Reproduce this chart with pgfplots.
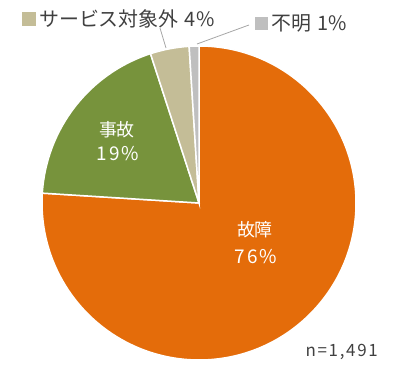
\documentclass[border=0pt]{standalone}
\usepackage{pgfplots}
\pgfplotsset{compat=1.18}
\usepackage{pgfplotstable}
\usepackage{fontspec}
\setmainfont{Noto Sans CJK JP}
\newfontfamily\numfont[LetterSpace=10]{Noto Sans CJK JP}
\newfontfamily\legnum[LetterSpace=4]{Noto Sans CJK JP}
\definecolor{cKosho}{HTML}{E46C0A}
\definecolor{cJiko}{HTML}{77933C}
\definecolor{cSvc}{HTML}{C4BD97}
\definecolor{cFumei}{HTML}{BFBFBF}
\definecolor{txt}{HTML}{404040}

% share (%) of each cause, clockwise from 12 o'clock
\pgfplotstableread{
value
76
19
4
1
}\piedata

\pgfplotstablegetelem{0}{value}\of\piedata \let\vA\pgfplotsretval
\pgfplotstablegetelem{1}{value}\of\piedata \let\vB\pgfplotsretval
\pgfplotstablegetelem{2}{value}\of\piedata \let\vC\pgfplotsretval
\pgfplotstablegetelem{3}{value}\of\piedata \let\vD\pgfplotsretval
\pgfmathsetmacro\aA{90-3.6*\vA}
\pgfmathsetmacro\aB{\aA-3.6*\vB}
\pgfmathsetmacro\aC{\aB-3.6*\vC}
\pgfmathsetmacro\aD{\aC-3.6*\vD}

\begin{document}
\begin{tikzpicture}
\begin{axis}[width=400bp,height=376bp,scale only axis,hide axis,
  xmin=0,xmax=400,ymin=0,ymax=376,clip=false]
\path (axis cs:0,0) rectangle (axis cs:400,376);
\def\cx{199}\def\cy{173}
\fill[cKosho,draw=white,line width=1.5bp] (axis cs:\cx,\cy) -- ++(90:157bp) arc[start angle=90,end angle=\aA,radius=157bp] -- cycle;
\fill[cJiko,draw=white,line width=1.5bp] (axis cs:\cx,\cy) -- ++(\aA:157bp) arc[start angle=\aA,end angle=\aB,radius=157bp] -- cycle;
\fill[cSvc,draw=white,line width=1.5bp] (axis cs:\cx,\cy) -- ++(\aB:157bp) arc[start angle=\aB,end angle=\aC,radius=157bp] -- cycle;
\fill[cFumei,draw=white,line width=1.5bp] (axis cs:\cx,\cy) -- ++(\aC:157bp) arc[start angle=\aC,end angle=\aD,radius=157bp] -- cycle;
% labels inside
\node[white,font=\fontsize{18}{20}\selectfont] at (axis cs:255,146) {故障};
\node[white,font=\numfont\fontsize{19}{20}\selectfont] at (axis cs:256,119) {76\%};
\node[white,font=\fontsize{18}{20}\selectfont] at (axis cs:117,246) {事故};
\node[white,font=\numfont\fontsize{19}{20}\selectfont] at (axis cs:118,222) {19\%};
% leader lines
\draw[gray!70,line width=0.8bp] (axis cs:160,348) -- (axis cs:166,328);
\draw[gray!70,line width=0.8bp] (axis cs:249,351) -- (axis cs:197,332);
% callout labels
\fill[cSvc] (axis cs:22,350) rectangle (axis cs:36,364);
\node[txt,anchor=west,inner sep=0pt,font=\fontsize{20}{22}\selectfont] at (axis cs:39,357) {サービス対象外\hspace{6bp}{\legnum 4\%}};
\fill[cFumei] (axis cs:255,346) rectangle (axis cs:268,359);
\node[txt,anchor=west,inner sep=0pt,font=\fontsize{20}{22}\selectfont] at (axis cs:271,352.5) {不明\hspace{6bp}{\legnum 1\%}};
\node[txt,anchor=east,inner sep=0pt,font=\numfont\fontsize{17}{18}\selectfont] at (axis cs:378,24) {n=1,491};
\end{axis}
\end{tikzpicture}
\end{document}
